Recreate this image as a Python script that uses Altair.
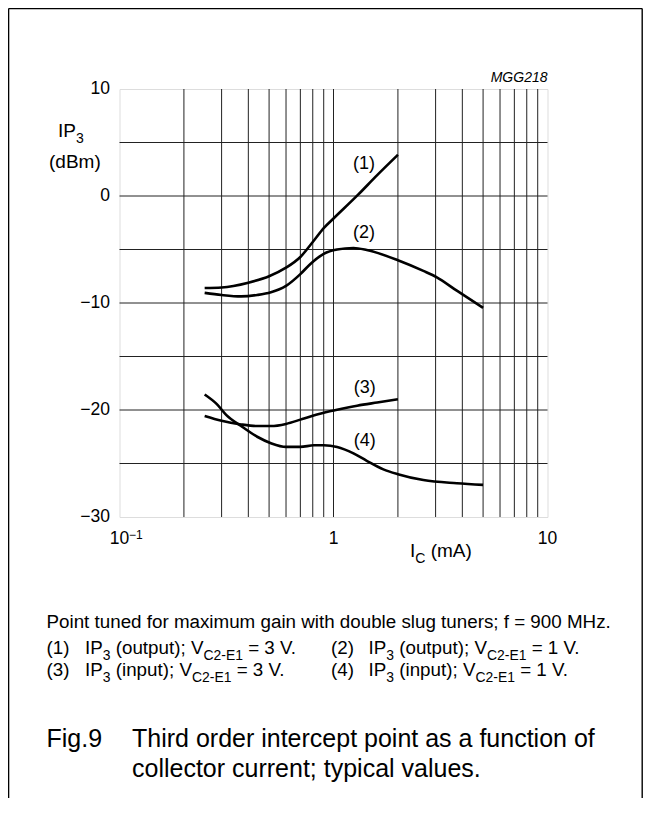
import altair as alt
import pandas as pd

# ---------------- data ----------------
ic_1 = [0.25, 0.30, 0.40, 0.50, 0.60, 0.70, 0.80, 0.90, 1.0, 1.3, 1.6, 2.0]
ip_1 = [-8.6, -8.55, -8.1, -7.5, -6.7, -5.7, -4.3, -3.0, -2.1, 0.1, 1.95, 3.85]

ic_2 = [0.25, 0.30, 0.37, 0.44, 0.51, 0.60, 0.70, 0.78, 0.90, 1.04, 1.24, 1.43, 2.0, 2.63, 3.04, 3.77, 5.0]
ip_2 = [-9.05, -9.25, -9.38, -9.25, -9.0, -8.4, -7.3, -6.35, -5.4, -5.0, -4.86, -5.05, -6.0, -7.0, -7.6, -8.85, -10.45]

ic_3 = [0.25, 0.30, 0.37, 0.44, 0.51, 0.60, 0.70, 0.78, 0.90, 1.0, 1.29, 1.6, 2.0]
ip_3 = [-20.55, -21.0, -21.35, -21.5, -21.5, -21.3, -20.9, -20.6, -20.25, -20.05, -19.6, -19.3, -19.0]

ic_4 = [0.25, 0.285, 0.315, 0.37, 0.44, 0.51, 0.60, 0.70, 0.81, 0.90, 1.04, 1.24, 1.43, 1.71, 2.0, 2.63, 3.77, 5.0]
ip_4 = [-18.55, -19.45, -20.45, -21.5, -22.5, -23.1, -23.45, -23.45, -23.3, -23.3, -23.45, -24.05, -24.75, -25.55, -26.0, -26.55, -26.85, -27.0]

curve_ids = ["(1)", "(2)", "(3)", "(4)"]
label_ic = [1.39, 1.39, 1.40, 1.40]
label_ip = [3.0, -3.5, -17.9, -22.9]

x_grid = [0.2, 0.3, 0.4, 0.5, 0.6, 0.7, 0.8, 0.9, 1, 2, 3, 4, 5, 6, 7, 8, 9]
y_grid = [5, 0, -5, -10, -15, -20, -25]
x_ticks = [0.1, 1, 10]
x_tick_labels = ["10", "1", "10"]
x_sup_text = "\u22121"
y_ticks = [10, 0, -10, -20, -30]

fig_code = "MGG218"
y_title_runs = [("IP", "n"), ("3", "s")]
y_title_unit = "(dBm)"
x_title_runs = [("I", "n"), ("C", "s"), (" (mA)", "n")]
note = "Point tuned for maximum gain with double slug tuners; f = 900 MHz."
legend_ids = ["(1)", "(2)", "(3)", "(4)"]
legend_qty = ["output", "output", "input", "input"]
legend_volts = ["3", "1", "3", "1"]
caption_no = "Fig.9"
caption_lines = ["Third order intercept point as a function of",
                 "collector current; typical values."]

# ---------------- layout ----------------
FONT = "Liberation Sans"
OX, OY = 119.5, 89.0          # plot origin in page pixels
W = H = 428
PAD_L, PAD_T = OX - 8, OY - 8
SVG_W, SVG_H = 635, 790
TICK_FS = 17.5

AW = {' ': 278, '(': 333, ')': 333, '.': 278, ';': 278, '=': 584, '-': 333, '\u2212': 584,
      'I': 278, 'P': 667, 'V': 667, 'C': 722, 'E': 667, 'M': 833, 'H': 722, 'F': 611, 'T': 611,
      'a': 556, 'b': 556, 'c': 500, 'd': 556, 'e': 556, 'f': 278, 'g': 556, 'h': 556, 'i': 222,
      'l': 222, 'm': 833, 'n': 556, 'o': 556, 'p': 556, 'r': 333, 's': 500, 't': 278, 'u': 556,
      'v': 500, 'w': 722, 'x': 500, 'y': 500, 'z': 500}


def adv(s, size):
    return sum(AW.get(c, 556) for c in s) * size / 1000.0


segments = []


def put(text, x, y, size):
    lead = len(text) - len(text.lstrip())
    segments.append({"px": x + adv(text[:lead], size) - OX, "py": y - OY,
                     "t": text.strip(), "size": size})
    return x + adv(text, size)


def put_runs(runs, x, y, size, sub_scale=0.74, sub_drop=0.3):
    for text, kind in runs:
        if kind == "s":
            x = put(text, x, y + size * sub_drop, size * sub_scale)
        else:
            x = put(text, x, y, size)
    return x


BODY = 18.8
CAP = 25
put_runs(y_title_runs, 58, 137, 19)
put(y_title_unit, 49, 168, 19)
put_runs(x_title_runs, 410, 557, 19)
put(note, 46.5, 628, BODY)
for i in range(4):
    col, row = i % 2, i // 2
    lx = [46.5, 331][col]
    tx = [85, 368.5][col]
    by = [654, 676][row]
    put(legend_ids[i], lx, by, BODY)
    put_runs([("IP", "n"), ("3", "s"), (f" ({legend_qty[i]}); V", "n"), ("C2-E1", "s"),
              (f" = {legend_volts[i]} V.", "n")], tx, by, BODY)
put(caption_no, 46.5, 747, CAP)
put(caption_lines[0], 132, 747, CAP)
put(caption_lines[1], 132, 777, CAP)

# ---------------- chart ----------------
xs = alt.Scale(type="log", domain=[0.1, 10], nice=False)
ys = alt.Scale(domain=[-30, 10], nice=False, zero=False)

grid_x = alt.Chart(pd.DataFrame({"ic": x_grid})).mark_rule(color="#222", strokeWidth=1).encode(
    x=alt.X("ic:Q", scale=xs, axis=None))
grid_y = alt.Chart(pd.DataFrame({"ip": y_grid})).mark_rule(color="#222", strokeWidth=1).encode(
    y=alt.Y("ip:Q", scale=ys, axis=None))

rows = []
for cid, xs_, ys_ in zip(curve_ids, [ic_1, ic_2, ic_3, ic_4], [ip_1, ip_2, ip_3, ip_4]):
    for a, b in zip(xs_, ys_):
        rows.append({"curve": cid, "ic": a, "ip": b})
curves = alt.Chart(pd.DataFrame(rows)).mark_line(
    color="black", strokeWidth=2.6, interpolate="monotone").encode(
    x=alt.X("ic:Q", scale=xs, axis=None),
    y=alt.Y("ip:Q", scale=ys, axis=None),
    detail="curve:N")

labels = alt.Chart(pd.DataFrame({"ic": label_ic, "ip": label_ip, "t": curve_ids})).mark_text(
    font=FONT, fontSize=18, align="center", baseline="middle", color="black").encode(
    x=alt.X("ic:Q", scale=xs, axis=None),
    y=alt.Y("ip:Q", scale=ys, axis=None),
    text="t:N")

# tick labels, positioned through the scales
y_tick_labels = [("\u2212" + str(abs(v))) if v < 0 else str(v) for v in y_ticks]
ylab = alt.Chart(pd.DataFrame({"ip": y_ticks, "t": y_tick_labels})).mark_text(
    font=FONT, fontSize=TICK_FS, align="right", baseline="middle", color="black").encode(
    x=alt.value(-9.5),
    y=alt.Y("ip:Q", scale=ys, axis=None),
    text="t:N")

xlab = alt.Chart(pd.DataFrame({"ic": x_ticks, "t": x_tick_labels})).mark_text(
    font=FONT, fontSize=TICK_FS, align="center", baseline="alphabetic", color="black").encode(
    x=alt.X("ic:Q", scale=xs, axis=None),
    y=alt.value(543.5 - OY),
    text="t:N")

sup = alt.Chart(pd.DataFrame({"ic": [x_ticks[0]], "t": [x_sup_text]})).mark_text(
    font=FONT, fontSize=12, align="left", baseline="alphabetic", dx=9.5, color="black").encode(
    x=alt.X("ic:Q", scale=xs, axis=None),
    y=alt.value(538.5 - OY),
    text="t:N")

code = alt.Chart(pd.DataFrame({"t": [fig_code]})).mark_text(
    font=FONT, fontSize=14, fontStyle="italic", align="right", baseline="alphabetic",
    color="black").encode(x=alt.value(W), y=alt.value(81.7 - OY), text="t:N")

texts = alt.Chart(pd.DataFrame(segments)).mark_text(
    font=FONT, align="left", baseline="alphabetic", color="black").encode(
    x=alt.X("px:Q", scale=None, axis=None),
    y=alt.Y("py:Q", scale=None, axis=None),
    text="t:N",
    size=alt.Size("size:Q", scale=None, legend=None))

one = pd.DataFrame({"k": [0]})
fl, fr, ft, fb = 8.6 - OX, 642.2 - OX, 8.6 - OY, 8 + SVG_H - OY
frame = alt.layer(
    alt.Chart(one).mark_rule(color="black", strokeWidth=1.4).encode(
        x=alt.value(fl), x2=alt.value(fr), y=alt.value(ft)),
    alt.Chart(one).mark_rule(color="black", strokeWidth=1.4).encode(
        x=alt.value(fl), y=alt.value(ft), y2=alt.value(fb)),
    alt.Chart(one).mark_rule(color="black", strokeWidth=1.4).encode(
        x=alt.value(fr), y=alt.value(ft), y2=alt.value(fb)),
)

chart = alt.layer(grid_x, grid_y, curves, labels, ylab, xlab, sup, code, texts, frame).properties(
    width=W, height=H,
    autosize=alt.AutoSizeParams(type="none"),
    padding={"left": PAD_L, "top": PAD_T, "right": SVG_W - PAD_L - W,
             "bottom": SVG_H - PAD_T - H},
).configure_view(stroke="black", strokeWidth=1.2).configure(font=FONT, background="white")

chart.save("out.html", embed_options={"renderer": "svg", "actions": False})
